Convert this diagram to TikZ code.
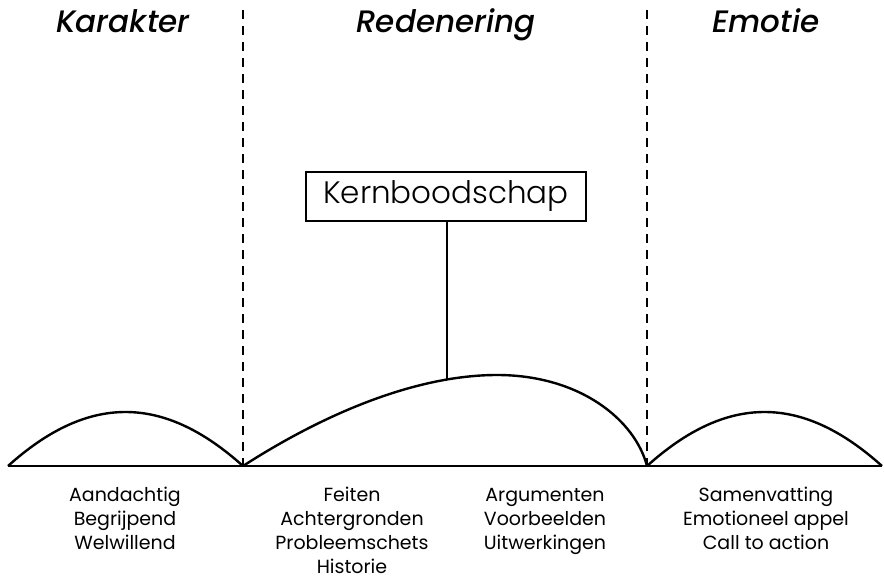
\documentclass[tikz,border=0pt]{standalone}
\usepackage{fontspec}
\setmainfont{Poppins}
\newfontfamily\titlefont{Poppins Medium Italic}
\newfontfamily\lightfont{Poppins Light}
\newcommand{\itemlines}[1]{\raisebox{0pt}[\height][0pt]{\begin{tabular}[t]{@{}c@{}}#1\end{tabular}}}
\begin{document}
\begin{tikzpicture}[x=1pt,y=-1pt,
  line/.style={line width=2.4pt},
  divider/.style={line width=2.4pt,dash pattern=on 9pt off 7pt},
  title/.style={font=\titlefont\fontsize{31}{36}\selectfont,anchor=base},
  items/.style={font=\fontsize{19}{24}\selectfont,inner sep=0pt,anchor=base},
  boxnode/.style={draw,line width=2.4pt,minimum width=280pt,minimum height=49pt,inner sep=0pt,font=\lightfont\fontsize{31}{36}\selectfont}]
\useasboundingbox (0,0) rectangle (884,578);
% baseline and junctions
\coordinate (L) at (8,466);
\coordinate (J1) at (243,466);
\coordinate (J2) at (647,466);
\coordinate (R) at (882,466);
\coordinate (T1) at (243,10);
\coordinate (T2) at (647,10);
\draw[line] (L) -- (R);
\draw[divider] (T1) -- (J1);
\draw[divider] (T2) -- (J2);
% arcs
\draw[line] (L) .. controls (88,394) and (163,394) .. (J1);
\draw[line] (J2) .. controls (727,394) and (802,394) .. (R);
\draw[line] (J1) .. controls (330,410) and (420,375) .. (497,375) coordinate (P)
  .. controls (580,375) and (635,420) .. (J2);
% core message
\node[boxnode] (K) at (446,196.5) {Kernboodschap};
\coordinate (A) at (447,378.5);
\draw[line] (K.south -| A) -- (A);
% titles
\node[title] (t1) at (123,33) {Karakter};
\node[title] (t2) at (446,33) {Redenering};
\node[title] (t3) at (766,33) {Emotie};
% items
\node[items] (c1) at (125,501) {\itemlines{Aandachtig\\Begrijpend\\Welwillend}};
\node[items] (c2) at (352,501) {\itemlines{Feiten\\Achtergronden\\Probleemschets\\Historie}};
\node[items] (c3) at (545,501) {\itemlines{Argumenten\\Voorbeelden\\Uitwerkingen}};
\node[items] (c4) at (766,501) {\itemlines{Samenvatting\\Emotioneel appel\\Call to action}};
\end{tikzpicture}
\end{document}
